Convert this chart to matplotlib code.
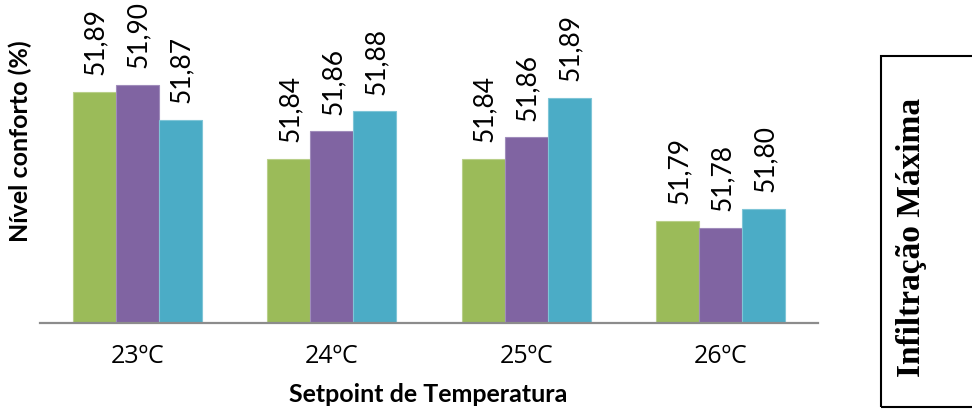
import matplotlib
matplotlib.use("Agg")
import matplotlib.pyplot as plt
from matplotlib.patches import Rectangle
import numpy as np

# Comfort level (%) per temperature setpoint, three scenarios per setpoint
categories = ["23ºC", "24ºC", "25ºC", "26ºC"]
serie_a = [51.894, 51.838, 51.838, 51.786]
serie_b = [51.900, 51.861, 51.856, 51.780]
serie_c = [51.871, 51.878, 51.889, 51.796]

colors = ["#9BBB59", "#8064A2", "#4BACC6"]
edges = ["#B9CF8A", "#A08CBB", "#7FC5D7"]

plt.rcParams["font.family"] = ["Lato", "DejaVu Sans"]

fig = plt.figure(figsize=(9.72, 4.17), dpi=100)
W, H = 972, 417
ax = fig.add_axes([40 / W, 1 - 323 / H, 778 / W, 313 / H])

x = np.arange(len(categories))
width = 0.221
for i, (vals, col, ec) in enumerate(zip([serie_a, serie_b, serie_c], colors, edges)):
    pos = x + (i - 1) * width
    ax.bar(pos, vals, width=width, color=col, edgecolor=ec, linewidth=0.8,
           bottom=0, zorder=2)
    for xp, v in zip(pos, vals):
        ax.annotate(f"{v:.2f}".replace(".", ","), xy=(xp, v), xytext=(1, 12),
                    textcoords="offset points", rotation=90, ha="center",
                    va="bottom", fontsize=19, color="black")

ax.set_xlim(-0.5, 3.5)
ax.set_ylim(51.70, 51.70 + 313 / 1190)
ax.set_xticks(x)
ax.set_xticklabels(categories, fontsize=18, family=["Open Sans", "DejaVu Sans"])
ax.tick_params(axis="x", length=0, pad=15)
ax.set_yticks([])
for s in ["top", "right", "left"]:
    ax.spines[s].set_visible(False)
ax.spines["bottom"].set_color("#8C8C8C")
ax.spines["bottom"].set_linewidth(1.6)
ax.spines["bottom"].set_zorder(3)

fig.text(20 / W, 1 - 141 / H, "Nível conforto (%)", rotation=90, ha="center",
         va="center", fontsize=18, fontweight="bold")
fig.text(428 / W, 1 - 395 / H, "Setpoint de Temperatura", ha="center",
         va="center", fontsize=18, fontweight="bold")

# Framed side caption
fig.patches.append(Rectangle((881 / W, 1 - 407 / H), 250 / W, 351 / H,
                             transform=fig.transFigure, fill=False,
                             edgecolor="black", linewidth=1.5))
fig.text(911 / W, 1 - 237 / H, "Infiltração Máxima", rotation=90, ha="center",
         va="center", fontsize=24, fontweight="bold",
         family=["Liberation Serif", "DejaVu Serif"])

fig.savefig("out.png", dpi=100)
